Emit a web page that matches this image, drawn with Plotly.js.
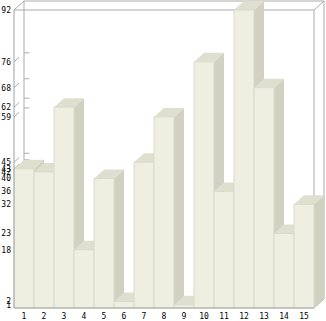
<!DOCTYPE html>
<html>
<head>
<meta charset="utf-8">
<script src="https://cdn.plot.ly/plotly-3.0.1.min.js"></script>
<style>
html,body{margin:0;padding:0;background:#fff;}
#chart{width:326px;height:321px;}
</style>
</head>
<body>
<div id="chart"></div>
<script>
// Data
const categories = [1,2,3,4,5,6,7,8,9,10,11,12,13,14,15];
const categoryLabels = ["1","2","3","4","5","6","7","8","9","10","11","12","13","14","15"];
const values = [43,42,62,18,40,2,45,59,1,76,36,92,68,23,32];
const yTickValues = [92,76,68,62,59,45,43,42,40,36,32,23,18,2,1];
const yTickLabels = yTickValues.map(String);

// 3D depth (in axis units)
const DX = 0.5, DY = 2.77;
const X0 = 0.5, X1 = 15.5, YMAX = 92;

const FRONT = '#efefe1', TOP = '#dfdfcf', SIDE = '#d1d1c1', EDGE = '#dadaca';
const FRAME = '#ababab';

function path(pts){ return 'M' + pts.map(p => p[0] + ',' + p[1]).join(' L') + ' Z'; }
function line(x0,y0,x1,y1,color,layer){
  return {type:'line', xref:'x', yref:'y', x0:x0, y0:y0, x1:x1, y1:y1,
          line:{color:color, width:1}, layer:layer||'below'};
}

const shapes = [];
// back wall
shapes.push({type:'rect', xref:'x', yref:'y', x0:X0+DX, y0:DY, x1:X1+DX, y1:YMAX+DY,
  fillcolor:'#ffffff', line:{color:FRAME, width:1}, layer:'below'});
// front frame (top & right)
shapes.push(line(X0, YMAX, X1, YMAX, FRAME));
shapes.push(line(X1, 0, X1, YMAX, FRAME));
// corner diagonals
shapes.push(line(X0, YMAX, X0+DX, YMAX+DY, FRAME));
shapes.push(line(X1, YMAX, X1+DX, YMAX+DY, FRAME));
shapes.push(line(X1, 0, X1+DX, DY, FRAME));
shapes.push(line(X0, 0, X0+DX, DY, FRAME));
// tick marks on left wall / back wall
yTickValues.forEach(v => {
  if (v === YMAX) return;
  shapes.push(line(X0, v, X0+DX*0.5, v+DY*0.5, FRAME));
  shapes.push(line(X0+DX, v+DY, X0+DX+0.27, v+DY, FRAME));
});
// side faces
categories.forEach((c,i) => {
  const v = values[i];
  shapes.push({type:'path', xref:'x', yref:'y', layer:'below',
    path: path([[c+0.5,0],[c+0.5+DX,DY],[c+0.5+DX,v+DY],[c+0.5,v]]),
    fillcolor:SIDE, line:{width:0}});
});
// top faces
categories.forEach((c,i) => {
  const v = values[i];
  shapes.push({type:'path', xref:'x', yref:'y', layer:'below',
    path: path([[c-0.5,v],[c-0.5+DX,v+DY],[c+0.5+DX,v+DY],[c+0.5,v]]),
    fillcolor:TOP, line:{width:0}});
});
// front axis lines above bars
shapes.push(line(X0, 0, X0, YMAX, '#a0a0a0', 'above'));
shapes.push(line(X0, 0, X1, 0, '#a0a0a0', 'above'));

const trace = {
  type:'bar', x:categories, y:values, width:1,
  marker:{color:FRONT, line:{color:EDGE, width:1}},
  hoverinfo:'none'
};

const layout = {
  width:326, height:321,
  margin:{l:12, r:0, t:0, b:11, pad:0},
  paper_bgcolor:'#ffffff', plot_bgcolor:'#ffffff',
  showlegend:false,
  bargap:0,
  font:{family:'DejaVu Sans Mono', size:8, color:'#000'},
  xaxis:{range:[0.4,16.1], tickvals:categories, ticktext:categoryLabels,
         showgrid:false, zeroline:false, showline:false, ticks:'', fixedrange:true,
         ticklabelstandoff:0},
  yaxis:{range:[-0.615,95.08], tickvals:yTickValues, ticktext:yTickLabels,
         showgrid:false, zeroline:false, showline:false, ticks:'', fixedrange:true,
         ticklabelstandoff:0},
  shapes:shapes
};

Plotly.newPlot('chart', [trace], layout, {staticPlot:true, displayModeBar:false});
</script>
</body>
</html>
